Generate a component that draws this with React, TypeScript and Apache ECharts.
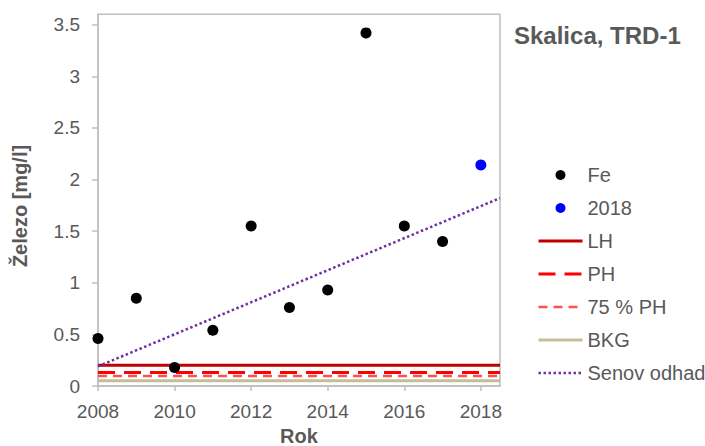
import React, { useEffect, useRef } from "react";
import * as echarts from "echarts";

// Iron concentration, Skalica TRD-1
const years = [2008, 2009, 2010, 2011, 2012, 2013, 2014, 2015, 2016, 2017];
const feValues = [0.46, 0.85, 0.18, 0.54, 1.55, 0.76, 0.93, 3.42, 1.55, 1.4];
const latestYear = 2018;
const latestValue = 2.14;

// Limit values and background level
const limitLH = 0.2;
const limitPH = 0.13;
const limitPH75 = 0.75 * limitPH;
const background = 0.05;

// Sen's slope estimate, endpoints across the plotted span
const senYears = [2008, 2018.5];
const senValues = [0.19, 1.82];

const xTicks = [2008, 2010, 2012, 2014, 2016, 2018];
const yTicks = [0, 0.5, 1, 1.5, 2, 2.5, 3, 3.5];
const xRange = [2008, 2018.5];
const yRange = [0, 3.6];

const TEXT = "#595959";
const AXIS = "#bfbfbf";
const FONT = "'Liberation Sans', Arial, sans-serif";

const hLine = (v: number) => xRange.map((x) => [x, v]);

// line-only legend entries: hide the marker the line series would add
const lineEntry = (name: string) => ({ name, itemStyle: { opacity: 0 } });

export default function App() {
  const ref = useRef<HTMLDivElement>(null);

  useEffect(() => {
    if (!ref.current) return;
    const chart = echarts.init(ref.current, undefined, { renderer: "svg" });
    chart.setOption({
      animation: false,
      textStyle: { fontFamily: FONT },
      title: {
        text: "Skalica, TRD-1",
        left: 514,
        top: 23,
        padding: 0,
        textStyle: { fontFamily: FONT, fontSize: 24, fontWeight: "bold", color: TEXT },
      },
      grid: {
        left: 98,
        top: 14.3,
        right: 205,
        bottom: 60,
        show: true,
        borderColor: AXIS,
        borderWidth: 1.5,
        containLabel: false,
        outerBoundsMode: "none",
      },
      legend: {
        orient: "vertical",
        left: 537,
        top: 165,
        padding: 0,
        itemWidth: 44,
        itemHeight: 10,
        itemGap: 13,
        textStyle: { fontFamily: FONT, fontSize: 20, color: TEXT },
        lineStyle: { width: "inherit" },
        data: [
          "Fe",
          "2018",
          lineEntry("LH"),
          lineEntry("PH"),
          lineEntry("75 % PH"),
          lineEntry("BKG"),
          lineEntry("Senov odhad"),
        ],
      },
      xAxis: {
        type: "value",
        min: xRange[0],
        max: xRange[1],
        interval: 2,
        name: "Rok",
        nameLocation: "middle",
        nameGap: 40,
        nameTextStyle: { fontFamily: FONT, fontSize: 20, lineHeight: 18, fontWeight: "bold", color: TEXT },
        axisLine: { show: true, lineStyle: { color: AXIS, width: 1.5 } },
        axisTick: { show: true, length: 5, lineStyle: { color: AXIS, width: 1.5 }, customValues: xTicks },
        axisLabel: {
          fontFamily: FONT,
          fontSize: 19,
          color: TEXT,
          margin: 16,
          customValues: xTicks,
          formatter: (v: number) => String(v),
        },
        splitLine: { show: false },
      },
      yAxis: {
        type: "value",
        min: yRange[0],
        max: yRange[1],
        interval: 0.5,
        axisLine: { show: true, lineStyle: { color: AXIS, width: 1.5 } },
        axisTick: { show: true, length: 6, lineStyle: { color: AXIS, width: 1.5 }, customValues: yTicks },
        axisLabel: {
          fontFamily: FONT,
          fontSize: 19,
          color: TEXT,
          margin: 18,
          customValues: yTicks,
          formatter: (v: number) => String(v),
        },
        splitLine: { show: false },
      },
      graphic: [
        {
          type: "text",
          x: 20,
          y: 206,
          rotation: Math.PI / 2,
          style: {
            text: "Železo [mg/l]",
            fontFamily: FONT,
            fontSize: 20,
            fontWeight: "bold",
            fill: TEXT,
            textAlign: "center",
            textVerticalAlign: "middle",
          },
        },
      ],
      series: [
        {
          name: "LH",
          type: "line",
          data: hLine(limitLH),
          symbol: "none",
          lineStyle: { color: "#c00000", width: 3 },
          itemStyle: { color: "#c00000" },
          z: 3,
        },
        {
          name: "PH",
          type: "line",
          data: hLine(limitPH),
          symbol: "none",
          lineStyle: { color: "#ff0000", width: 3, type: [17, 9] },
          itemStyle: { color: "#ff0000" },
          z: 3,
        },
        {
          name: "75 % PH",
          type: "line",
          data: hLine(limitPH75),
          symbol: "none",
          lineStyle: { color: "#ff5050", width: 2.5, type: [9, 6] },
          itemStyle: { color: "#ff5050" },
          z: 3,
        },
        {
          name: "BKG",
          type: "line",
          data: hLine(background),
          symbol: "none",
          lineStyle: { color: "#c4bd97", width: 3 },
          itemStyle: { color: "#c4bd97" },
          z: 3,
        },
        {
          name: "Senov odhad",
          type: "line",
          data: senYears.map((x, i) => [x, senValues[i]]),
          symbol: "none",
          lineStyle: { color: "#7030a0", width: 2.5, type: [2.5, 2.5] },
          itemStyle: { color: "#7030a0" },
          z: 4,
        },
        {
          name: "Fe",
          type: "scatter",
          data: years.map((y, i) => [y, feValues[i]]),
          symbol: "circle",
          symbolSize: 11,
          itemStyle: { color: "#000000", opacity: 1 },
          z: 5,
        },
        {
          name: "2018",
          type: "scatter",
          data: [[latestYear, latestValue]],
          symbol: "circle",
          symbolSize: 11,
          itemStyle: { color: "#0000ff", opacity: 1 },
          z: 5,
        },
      ],
    });
    return () => chart.dispose();
  }, []);

  return (
    <div
      ref={ref}
      style={{ position: "fixed", left: 0, top: 0, width: 705, height: 446, background: "#ffffff" }}
    />
  );
}
